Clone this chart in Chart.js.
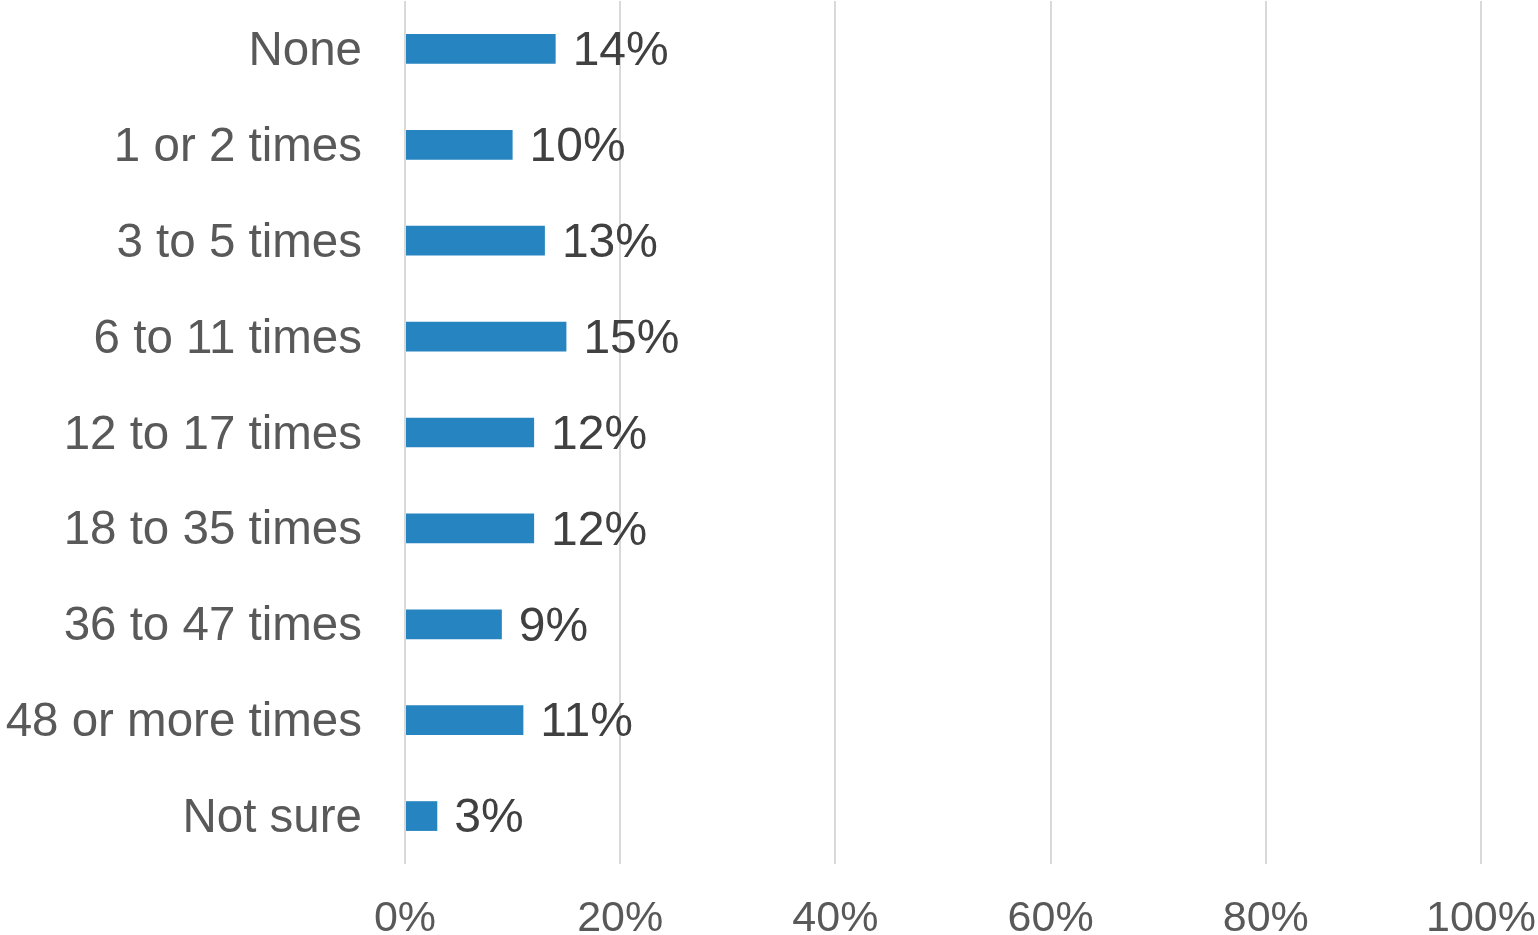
<!DOCTYPE html>
<html>
<head>
<meta charset="utf-8">
<script src="https://cdn.jsdelivr.net/npm/chart.js@4/dist/chart.umd.min.js"></script>
<style>
  html, body { margin: 0; padding: 0; background: #ffffff; }
  #wrap { width: 1538px; height: 935px; position: relative; }
</style>
</head>
<body>
<div id="wrap"><canvas id="c"></canvas></div>
<script>
const categories = ["None", "1 or 2 times", "3 to 5 times", "6 to 11 times", "12 to 17 times", "18 to 35 times", "36 to 47 times", "48 or more times", "Not sure"];
const values = [14, 10, 13, 15, 12, 12, 9, 11, 3];
const xTicks = [0, 20, 40, 60, 80, 100];

const FONT = "'Liberation Sans', Arial, sans-serif";

const valueLabels = {
  id: 'valueLabels',
  afterDatasetsDraw(chart) {
    const ctx = chart.ctx;
    const meta = chart.getDatasetMeta(0);
    ctx.save();
    ctx.font = "48px " + FONT;
    ctx.fillStyle = "#404040";
    ctx.textAlign = "left";
    ctx.textBaseline = "middle";
    meta.data.forEach((bar, i) => {
      ctx.fillText(values[i] + "%", bar.x + 17, bar.y + 3);
    });
    ctx.restore();
  }
};

new Chart(document.getElementById('c'), {
  type: 'bar',
  data: {
    labels: categories,
    datasets: [{
      data: values,
      backgroundColor: '#2684C0',
      borderWidth: 0,
      categoryPercentage: 1.0,
      barPercentage: 0.31
    }]
  },
  options: {
    indexAxis: 'y',
    responsive: true,
    maintainAspectRatio: false,
    animation: false,
    layout: { padding: { left: 0, right: 57, top: 1, bottom: 0 } },
    plugins: { legend: { display: false }, tooltip: { enabled: false } },
    scales: {
      x: {
        min: 0, max: 100,
        afterBuildTicks(scale) { scale.ticks = xTicks.map(v => ({ value: v })); },
        ticks: {
          callback: v => v + '%',
          color: '#595959',
          font: { family: FONT, size: 43 },
          padding: 29,
          maxRotation: 0
        },
        grid: { color: '#d9d9d9', lineWidth: 2, drawTicks: false },
        border: { display: false },
        afterFit(scale) {
          scale.height = 71;
          scale.paddingLeft = 0; scale.paddingRight = 0;
        }
      },
      y: {
        ticks: {
          color: '#595959',
          font: { family: FONT, size: 47.5 },
          padding: 43,
          labelOffset: 3
        },
        grid: { display: false, drawTicks: false },
        border: { display: false },
        afterFit(scale) {
          scale.width = 405;
          scale.paddingTop = 0; scale.paddingBottom = 0;
        }
      }
    }
  },
  plugins: [valueLabels]
});
</script>
</body>
</html>
